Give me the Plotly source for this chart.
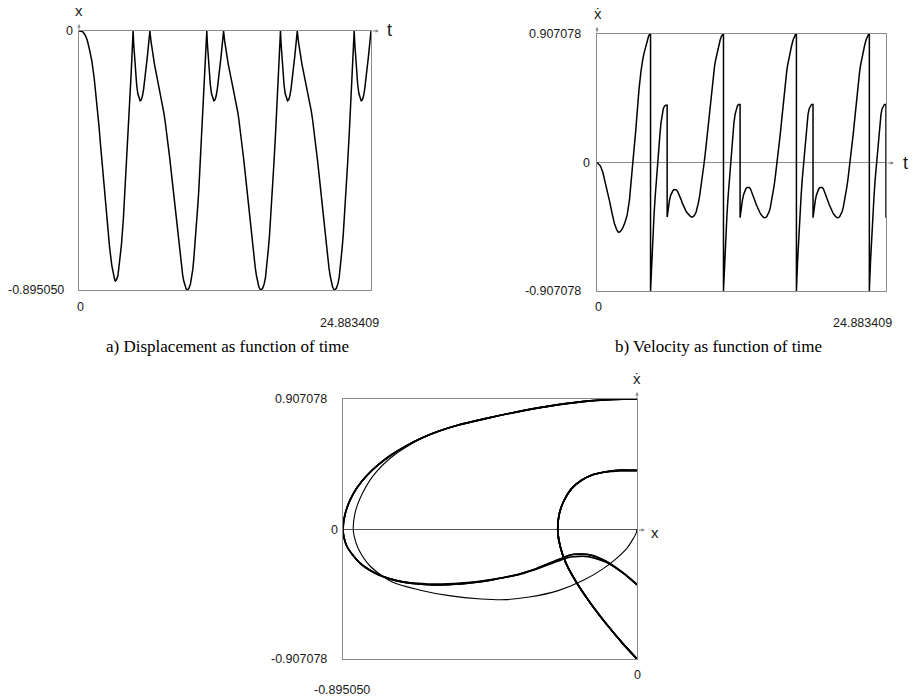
import plotly.graph_objects as go

W, H = 921, 698

X_MIN = -0.895050
V_MAX = 0.907078
T_END = 24.883409

# transient, from rest at the wall up to the first impact
t_tr = [0.00, 0.30, 0.50, 0.70, 0.90, 1.10, 1.30, 1.50, 1.70, 1.85, 2.00, 2.20, 2.40, 2.60, 2.80,
        2.95, 3.05, 3.10, 3.20, 3.32, 3.46, 3.61, 3.78, 3.85, 3.93, 4.05, 4.20, 4.33, 4.45, 4.53, 4.61]
x_tr = [0.000, -0.002, -0.012, -0.031, -0.065, -0.105, -0.165, -0.240, -0.328, -0.400, -0.475, -0.572,
        -0.663, -0.745, -0.812, -0.848, -0.861, -0.864, -0.859, -0.844, -0.803, -0.742, -0.650, -0.600,
        -0.549, -0.458, -0.346, -0.244, -0.143, -0.070, 0.000]
v_tr = [0.000, -0.025, -0.069, -0.135, -0.210, -0.280, -0.360, -0.430, -0.475, -0.493, -0.488, -0.465,
        -0.425, -0.370, -0.260, -0.140, -0.050, 0.000, 0.105, 0.209, 0.372, 0.511, 0.640, 0.685,
        0.722, 0.772, 0.826, 0.866, 0.894, 0.904, 0.907]

# first cycle after the transient (impacts at 4.61 and 6.04)
t_p1 = [4.61, 4.66, 4.71, 4.76, 4.81, 4.91, 5.01, 5.11, 5.21, 5.31, 5.41, 5.51, 5.61, 5.71, 5.81, 5.91,
        6.01, 6.04, 6.04,
        6.14, 6.24, 6.34, 6.44, 6.54, 6.64, 6.74, 6.84, 6.94, 7.04, 7.14, 7.24, 7.34, 7.44, 7.54, 7.64,
        7.74, 7.84, 7.94, 8.04, 8.14, 8.24, 8.34, 8.44, 8.54, 8.64, 8.74, 8.84, 8.94, 9.04, 9.14, 9.23,
        9.37, 9.50, 9.61, 9.70, 9.78, 9.86, 9.96, 10.05, 10.13, 10.21, 10.33, 10.48, 10.61, 10.73,
        10.81, 10.89]
x_p1 = [0.000, -0.043, -0.080, -0.113, -0.141, -0.185, -0.216, -0.234, -0.241, -0.238, -0.224, -0.200,
        -0.169, -0.133, -0.094, -0.054, -0.013, 0.000, 0.000,
        -0.037, -0.067, -0.094, -0.117, -0.138, -0.158, -0.177, -0.196, -0.216, -0.237, -0.260, -0.285,
        -0.312, -0.341, -0.373, -0.407, -0.442, -0.479, -0.517, -0.556, -0.596, -0.636, -0.676, -0.715,
        -0.752, -0.787, -0.818, -0.845, -0.866, -0.883, -0.892, -0.895,
        -0.889, -0.874, -0.852, -0.823, -0.789, -0.752, -0.703, -0.650, -0.600, -0.549, -0.458, -0.346,
        -0.244, -0.143, -0.070, 0.000]
v_p1 = [-0.907, -0.800, -0.700, -0.605, -0.520, -0.370, -0.240, -0.120, -0.020, 0.090, 0.190, 0.280,
        0.340, 0.380, 0.398, 0.405, 0.405, 0.405, -0.385,
        -0.315, -0.268, -0.232, -0.212, -0.198, -0.191, -0.191, -0.194, -0.204, -0.221, -0.240, -0.262,
        -0.285, -0.306, -0.325, -0.340, -0.353, -0.364, -0.373, -0.380, -0.384, -0.384, -0.378, -0.367,
        -0.347, -0.319, -0.281, -0.234, -0.180, -0.122, -0.060, 0.000,
        0.100, 0.200, 0.290, 0.372, 0.445, 0.511, 0.580, 0.640, 0.685, 0.722, 0.772, 0.826,
        0.866, 0.894, 0.904, 0.907]

# settled cycle, shared by the second and third cycles and the last part
x_cyc = [0.000, -0.043, -0.080, -0.113, -0.141, -0.185, -0.216, -0.234, -0.241, -0.238, -0.224, -0.200,
         -0.169, -0.133, -0.094, -0.054, -0.013, 0.000, 0.000,
         -0.037, -0.067, -0.093, -0.115, -0.135, -0.155, -0.173, -0.191, -0.210, -0.230, -0.253, -0.278,
         -0.305, -0.335, -0.367, -0.402, -0.438, -0.475, -0.514, -0.554, -0.595, -0.635, -0.676, -0.715,
         -0.752, -0.787, -0.818, -0.845, -0.866, -0.883, -0.892, -0.895,
         -0.889, -0.874, -0.852, -0.823, -0.789, -0.752, -0.703, -0.650, -0.600, -0.549, -0.458, -0.346,
         -0.244, -0.143, -0.070, 0.000]
v_cyc = [-0.907, -0.800, -0.700, -0.605, -0.520, -0.370, -0.240, -0.120, -0.020, 0.090, 0.190, 0.280,
         0.340, 0.380, 0.400, 0.410, 0.410, 0.410, -0.390,
         -0.317, -0.265, -0.227, -0.202, -0.185, -0.176, -0.174, -0.176, -0.187, -0.206, -0.226, -0.250,
         -0.275, -0.298, -0.320, -0.337, -0.353, -0.367, -0.378, -0.386, -0.390, -0.389, -0.382, -0.369,
         -0.348, -0.319, -0.281, -0.234, -0.180, -0.122, -0.060, 0.000,
         0.100, 0.200, 0.290, 0.372, 0.445, 0.511, 0.580, 0.640, 0.685, 0.722, 0.772, 0.826,
         0.866, 0.894, 0.904, 0.907]

t_p2 = [10.89, 10.94, 10.99, 11.04, 11.09, 11.19, 11.29, 11.39, 11.49, 11.59, 11.69, 11.79, 11.89, 11.99,
        12.09, 12.19, 12.29, 12.32, 12.32,
        12.42, 12.52, 12.62, 12.72, 12.82, 12.92, 13.02, 13.12, 13.22, 13.32, 13.42, 13.52, 13.62, 13.72,
        13.82, 13.92, 14.02, 14.12, 14.22, 14.32, 14.42, 14.52, 14.62, 14.72, 14.82, 14.92, 15.02, 15.12,
        15.22, 15.32, 15.42, 15.51,
        15.65, 15.78, 15.89, 15.98, 16.06, 16.14, 16.24, 16.33, 16.41, 16.49, 16.61, 16.76, 16.89, 17.01,
        17.09, 17.17]
t_p3 = [17.17, 17.22, 17.27, 17.32, 17.37, 17.47, 17.57, 17.67, 17.77, 17.87, 17.97, 18.07, 18.17, 18.27,
        18.37, 18.47, 18.57, 18.60, 18.60,
        18.70, 18.80, 18.90, 19.00, 19.10, 19.20, 19.30, 19.40, 19.50, 19.60, 19.70, 19.80, 19.90, 20.00,
        20.10, 20.20, 20.30, 20.40, 20.50, 20.60, 20.70, 20.80, 20.90, 21.00, 21.10, 21.20, 21.30, 21.40,
        21.50, 21.60, 21.70, 21.79,
        21.93, 22.06, 22.17, 22.26, 22.34, 22.42, 22.52, 22.61, 22.69, 22.77, 22.89, 23.04, 23.17, 23.29,
        23.37, 23.45]
t_end = [23.45, 23.50, 23.55, 23.60, 23.65, 23.75, 23.85, 23.95, 24.05, 24.15, 24.25, 24.35, 24.45, 24.55,
         24.65, 24.75, 24.85, 24.883, 24.883]

x_lbl = [f"{X_MIN:.6f}", "0"]
v_lbl = [f"{V_MAX:.6f}", "0", f"{-V_MAX:.6f}"]
t_lbl = ["0", f"{T_END:.6f}"]
captions = ["a) Displacement as function of time", "b) Velocity as function of time"]

n_end = len(t_end)
t_all = t_tr + t_p1 + t_p2 + t_p3 + t_end
x_all = x_tr + x_p1 + x_cyc + x_cyc + x_cyc[:n_end]
v_all = v_tr + v_p1 + v_cyc + v_cyc + v_cyc[:n_end]
x_settled = x_p1 + x_cyc + x_cyc + x_cyc[:n_end]
v_settled = v_p1 + v_cyc + v_cyc + v_cyc[:n_end]


def split_at_impacts(xs, vs):
    # break the phase curve where it jumps along the wall, so the spline does not hook there
    ox, ov = [xs[0]], [vs[0]]
    for i in range(1, len(xs)):
        if xs[i] == 0 and xs[i - 1] == 0:
            ox.append(None)
            ov.append(None)
        ox.append(xs[i])
        ov.append(vs[i])
    return ox, ov


x_phase, v_phase = split_at_impacts(x_settled, v_settled)

_BOX = "#8a8a8a"
_SANS = "Liberation Sans, Arial, DejaVu Sans, sans-serif"
_SERIF = "Liberation Serif, Times New Roman, serif"


def fx(p):
    return p / W


def fy(p):
    return 1 - p / H


def axis(dom, rng, **kw):
    d = dict(domain=dom, range=rng, showgrid=False, zeroline=False, showline=True, mirror=True,
             linecolor=_BOX, linewidth=1, showticklabels=False, ticks="", fixedrange=True)
    d.update(kw)
    return d


fig = go.Figure()
line = dict(color="black", width=1.5)
fig.add_trace(go.Scatter(x=t_all, y=x_all, mode="lines", line=line, xaxis="x", yaxis="y", hoverinfo="skip"))
fig.add_trace(go.Scatter(x=t_all, y=v_all, mode="lines", line=line, xaxis="x2", yaxis="y2", hoverinfo="skip"))
fig.add_trace(go.Scatter(x=x_tr, y=v_tr, mode="lines",
                         line=dict(color="black", width=1.1, shape="spline", smoothing=0.8),
                         xaxis="x3", yaxis="y3", hoverinfo="skip"))
fig.add_trace(go.Scatter(x=x_phase, y=v_phase, mode="lines", connectgaps=False,
                         line=dict(color="black", width=1.6, shape="spline", smoothing=0.8),
                         xaxis="x3", yaxis="y3", hoverinfo="skip"))

ann = []


def label(text, x, y, xanchor="center", size=12.5, family=_SANS, color="#1a1a1a"):
    ann.append(dict(text=text, x=fx(x), y=fy(y), xref="paper", yref="paper", showarrow=False,
                    xanchor=xanchor, yanchor="middle", font=dict(family=family, size=size, color=color)))


def arrow(x, y, ax, ay):
    ann.append(dict(text="", x=fx(x), y=fy(y), xref="paper", yref="paper", showarrow=True,
                    ax=ax, ay=ay, arrowhead=2, arrowsize=0.7, arrowwidth=1, arrowcolor=_BOX))


# panel a
label(x_lbl[1], 75, 31, "right")
label(x_lbl[0], 66, 290, "right")
label(t_lbl[0], 80, 307)
label(t_lbl[1], 349, 323)
label("x", 79, 11, size=15)
label("t", 389, 30, size=18)
arrow(379, 31, -8, 0)
arrow(79, 24, 0, 7)

# panel b
label(v_lbl[0], 583, 34, "right")
label(v_lbl[1], 592, 163, "right")
label(v_lbl[2], 583, 291, "right")
label(t_lbl[0], 598, 307)
label(t_lbl[1], 862, 323)
label("ẋ", 598, 14, size=15)
label("t", 905, 163, size=18)
arrow(894, 163, -8, 0)
arrow(597, 27, 0, 7)

# panel c
label(v_lbl[0], 329, 399, "right")
label(v_lbl[1], 340, 530, "right")
label(v_lbl[2], 329, 659, "right")
label(x_lbl[0], 342, 690)
label(x_lbl[1], 637, 675)
label("x", 655, 532, size=15)
label("ẋ", 637, 378, size=15)
arrow(645, 530, -8, 0)
arrow(637, 392, 0, 7)

label(captions[0], 227, 346, size=17, family=_SERIF, color="black")
label(captions[1], 718, 346, size=17, family=_SERIF, color="black")

fig.update_layout(
    width=W, height=H,
    margin=dict(l=0, r=0, t=0, b=0),
    paper_bgcolor="white", plot_bgcolor="white",
    showlegend=False,
    xaxis=axis([fx(79), fx(371)], [0, T_END], anchor="y"),
    yaxis=axis([fy(290), fy(31)], [X_MIN, 0], anchor="x"),
    xaxis2=axis([fx(597), fx(886)], [0, T_END], anchor="y2"),
    yaxis2=axis([fy(291), fy(34)], [-V_MAX, V_MAX], anchor="x2",
                zeroline=True, zerolinecolor=_BOX, zerolinewidth=1),
    xaxis3=axis([fx(343), fx(637)], [X_MIN, 0], anchor="y3",
                zeroline=True, zerolinecolor="#333333", zerolinewidth=1.2),
    yaxis3=axis([fy(659), fy(399)], [-V_MAX, V_MAX], anchor="x3",
                zeroline=True, zerolinecolor="#555555", zerolinewidth=1),
    annotations=ann,
)

# the page body has a default 8px margin; drop it so the figure sits at the window corner
fig.write_html("out.html", config={"displayModeBar": False},
               post_script="document.body.style.margin='0';document.body.style.overflow='hidden';")
